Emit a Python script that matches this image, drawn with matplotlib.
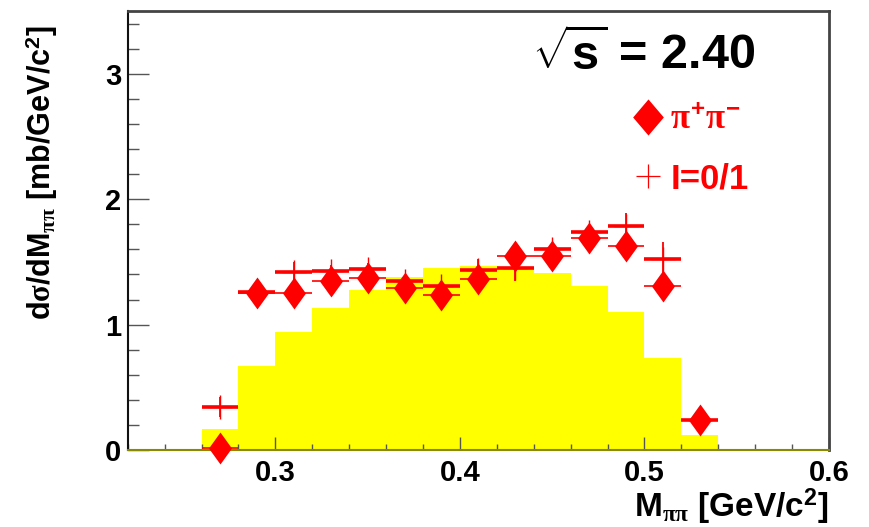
import numpy as np
import matplotlib.pyplot as plt
from matplotlib.lines import Line2D

plt.rcParams['font.family'] = ['Liberation Sans', 'DejaVu Sans']
plt.rcParams['font.weight'] = 'bold'
plt.rcParams['mathtext.fontset'] = 'custom'
plt.rcParams['mathtext.rm'] = 'Liberation Sans:bold'
plt.rcParams['mathtext.bf'] = 'Liberation Sans:bold'
plt.rcParams['mathtext.it'] = 'Liberation Serif:bold'
plt.rcParams['mathtext.sf'] = 'Liberation Sans:bold'

# yellow histogram (bin edges and heights)
hist_edges = np.round(np.arange(0.26, 0.5401, 0.02), 2)
hist_vals = [0.165, 0.67, 0.94, 1.13, 1.28, 1.38, 1.45, 1.47, 1.46, 1.41, 1.31, 1.10, 0.73, 0.12]

# pi+ pi- data (diamonds)
m_pm = [0.27, 0.29, 0.31, 0.33, 0.35, 0.37, 0.39, 0.41, 0.43, 0.45, 0.47, 0.49, 0.51, 0.53]
xs_pm = [0.013, 1.25, 1.25, 1.35, 1.375, 1.295, 1.24, 1.36, 1.55, 1.545, 1.69, 1.63, 1.31, 0.24]

# I=0/1 (crosses)
m_iso = [0.27, 0.29, 0.31, 0.33, 0.35, 0.37, 0.39, 0.41, 0.43, 0.45, 0.47, 0.49, 0.51, 0.53]
xs_iso = [0.34, 1.26, 1.42, 1.425, 1.44, 1.35, 1.31, 1.435, 1.45, 1.60, 1.74, 1.79, 1.525, 0.24]
err_iso = [0.08, 0.05, 0.08, 0.05, 0.05, 0.04, 0.04, 0.09, 0.10, 0.05, 0.05, 0.10, 0.13, 0.03]

bin_half = 0.01

# ROOT-like diamond marker (taller than wide)
diamond = [(0, 1), (0.72, 0), (0, -1), (-0.72, 0), (0, 1)]
diamond_leg = [(0, 1), (0.85, 0), (0, -1), (-0.85, 0), (0, 1)]

fig = plt.figure(figsize=(8.69, 5.27), dpi=100)
ax = fig.add_axes([0.147, 0.146, 0.807, 0.833])

ax.stairs(hist_vals, hist_edges, fill=True, color='#ffff00', zorder=1)

# I=0/1 crosses
ax.errorbar(m_iso, xs_iso, xerr=bin_half, fmt='none', ecolor='red', elinewidth=2.6, zorder=3)
ax.errorbar(m_iso, xs_iso, yerr=err_iso, fmt='none', ecolor='red', elinewidth=1.3, zorder=3)
ax.plot(m_iso, xs_iso, ls='none', marker='+', ms=17, mew=1.0, color='red', zorder=3)

# pi+ pi- diamonds
ax.errorbar(m_pm, xs_pm, xerr=bin_half, fmt='none', ecolor='red', elinewidth=1.2,
            linestyle=':', zorder=4)
ax.plot(m_pm, xs_pm, ls='none', marker=diamond, ms=23, color='red', mec='red', mew=0,
        zorder=5, clip_on=False)

ax.set_xlim(0.22, 0.6)
ax.set_ylim(0, 3.5)
ax.set_xticks([0.3, 0.4, 0.5, 0.6])
ax.set_xticklabels(['0.3', '0.4', '0.5', '0.6'])
ax.set_xticks(np.arange(0.22, 0.601, 0.02), minor=True)
ax.set_yticks([0, 1, 2, 3])
ax.set_yticks(np.arange(0, 3.5, 0.2), minor=True)

ax.tick_params(axis='both', which='both', direction='in', color='#555555', width=1,
               labelsize=21, top=False, right=False)
ax.tick_params(axis='y', which='major', length=15, pad=4.5)
ax.tick_params(axis='y', which='minor', length=8)
ax.tick_params(axis='x', which='major', length=9.5, pad=6.5)
ax.tick_params(axis='x', which='minor', length=4.5)
for lab in ax.get_xticklabels() + ax.get_yticklabels():
    lab.set_fontweight('bold')

ax.spines['left'].set_color('#111111')
ax.spines['left'].set_linewidth(1.5)
ax.spines['bottom'].set_color('#8a8a00')
ax.spines['bottom'].set_linewidth(1.5)
ax.spines['top'].set_color('#444444')
ax.spines['top'].set_linewidth(2)
ax.spines['right'].set_color('#444444')
ax.spines['right'].set_linewidth(2)

ax.set_xlabel(r'M$_{\pi\pi}$ [GeV/c$^{2}$]', fontsize=24, fontweight='bold', loc='right',
              labelpad=0)
ax.set_ylabel(r'd$\sigma$/dM$_{\pi\pi}$ [mb/GeV/c$^{2}$]', fontsize=22, fontweight='bold',
              loc='top')
ax.yaxis.set_label_coords(-0.097, 0.968)

ax.text(0.576, 0.866, r'$\sqrt{\mathbf{s}}$ = 2.40', transform=ax.transAxes,
        fontsize=35, fontweight='bold', va='baseline', ha='left')

handles = [Line2D([], [], ls='none', marker=diamond_leg, ms=26, color='red', mew=0),
           Line2D([], [], ls='none', marker='+', ms=17, mew=0.9, color='red')]
ax.legend(handles, [r'$\pi^{+}\pi^{-}$', 'I=0/1'], loc='upper left',
          bbox_to_anchor=(0.692, 0.83), frameon=False, labelcolor='red',
          prop={'size': 25, 'weight': 'bold'}, handlelength=1.0, handletextpad=0.15,
          labelspacing=0.75, borderpad=0)

fig.savefig('out.png', dpi=100)
